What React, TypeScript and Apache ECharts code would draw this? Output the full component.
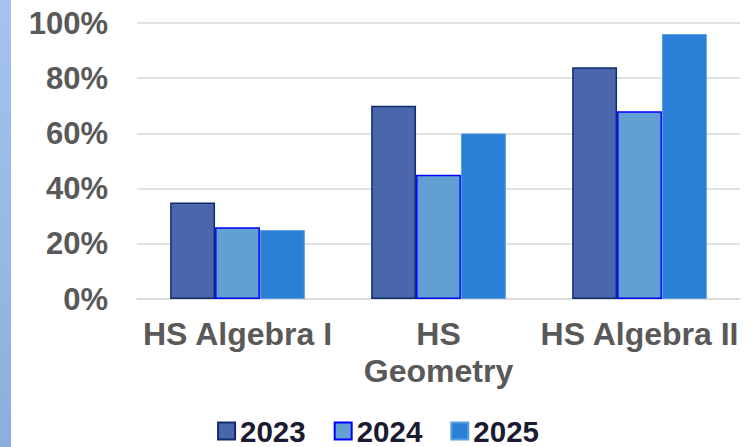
import React, { useEffect, useRef } from "react";
import * as echarts from "echarts";

const categories = ["HS Algebra I", "HS\nGeometry", "HS Algebra II"];
const seriesNames = ["2023", "2024", "2025"];
const values2023 = [35, 70, 84];
const values2024 = [26, 45, 68];
const values2025 = [25, 60, 96];
const yTicks = [0, 20, 40, 60, 80, 100];

const FONT = "'Liberation Sans', Arial, sans-serif";

export default function App() {
  const ref = useRef<HTMLDivElement>(null);
  useEffect(() => {
    if (!ref.current) return;
    const chart = echarts.init(ref.current, undefined, { renderer: "svg" });
    const mk = (name: string, data: number[], color: string, border: string, bw: number) => ({
      name,
      type: "bar",
      data,
      barGap: "0%",
      barCategoryGap: "33%",
      itemStyle: { color, borderColor: border, borderWidth: bw },
    });
    chart.setOption({
      animation: false,
      backgroundColor: "#ffffff",
      graphic: [
        {
          type: "rect",
          left: 0,
          top: 0,
          shape: { x: 0, y: 0, width: 11, height: 447 },
          style: {
            fill: new echarts.graphic.LinearGradient(0, 0, 0, 1, [
              { offset: 0, color: "#a4c4ee" },
              { offset: 1, color: "#8dadde" },
            ]),
          },
          z: 10,
        },
      ],
      grid: { left: 137, right: 16, top: 23, bottom: 148, containLabel: false },
      legend: {
        top: 416,
        left: "center",
        padding: 0,
        itemWidth: 17,
        itemHeight: 17,
        itemGap: 28,
        icon: "rect",
        textStyle: { fontFamily: FONT, fontSize: 29.5, lineHeight: 26, fontWeight: "bold", color: "#1a1a30" },
        data: seriesNames,
      },
      xAxis: {
        type: "category",
        data: categories,
        axisLine: { show: true, lineStyle: { color: "#d9d9d9", width: 1.5 } },
        axisTick: { show: false },
        axisLabel: {
          fontFamily: FONT,
          fontSize: 32,
          fontWeight: "bold",
          color: "#595959",
          margin: 16,
          lineHeight: 37,
          interval: 0,
        },
      },
      yAxis: {
        type: "value",
        min: yTicks[0],
        max: yTicks[yTicks.length - 1],
        interval: 20,
        axisLine: { show: false },
        axisTick: { show: false },
        splitLine: { lineStyle: { color: "#d9d9d9", width: 1.5 } },
        axisLabel: {
          fontFamily: FONT,
          fontSize: 31,
          fontWeight: "bold",
          color: "#595959",
          margin: 29,
          formatter: "{value}%",
        },
      },
      series: [
        mk(seriesNames[0], values2023, "#4a66ad", "#0f2c6b", 1.5),
        mk(seriesNames[1], values2024, "#629fd2", "#0000ff", 1.5),
        mk(seriesNames[2], values2025, "#2b7fd6", "#5a9fe2", 1),
      ],
    });
    return () => chart.dispose();
  }, []);
  return <div ref={ref} style={{ width: 756, height: 447, position: "absolute", left: 0, top: 0 }} />;
}
